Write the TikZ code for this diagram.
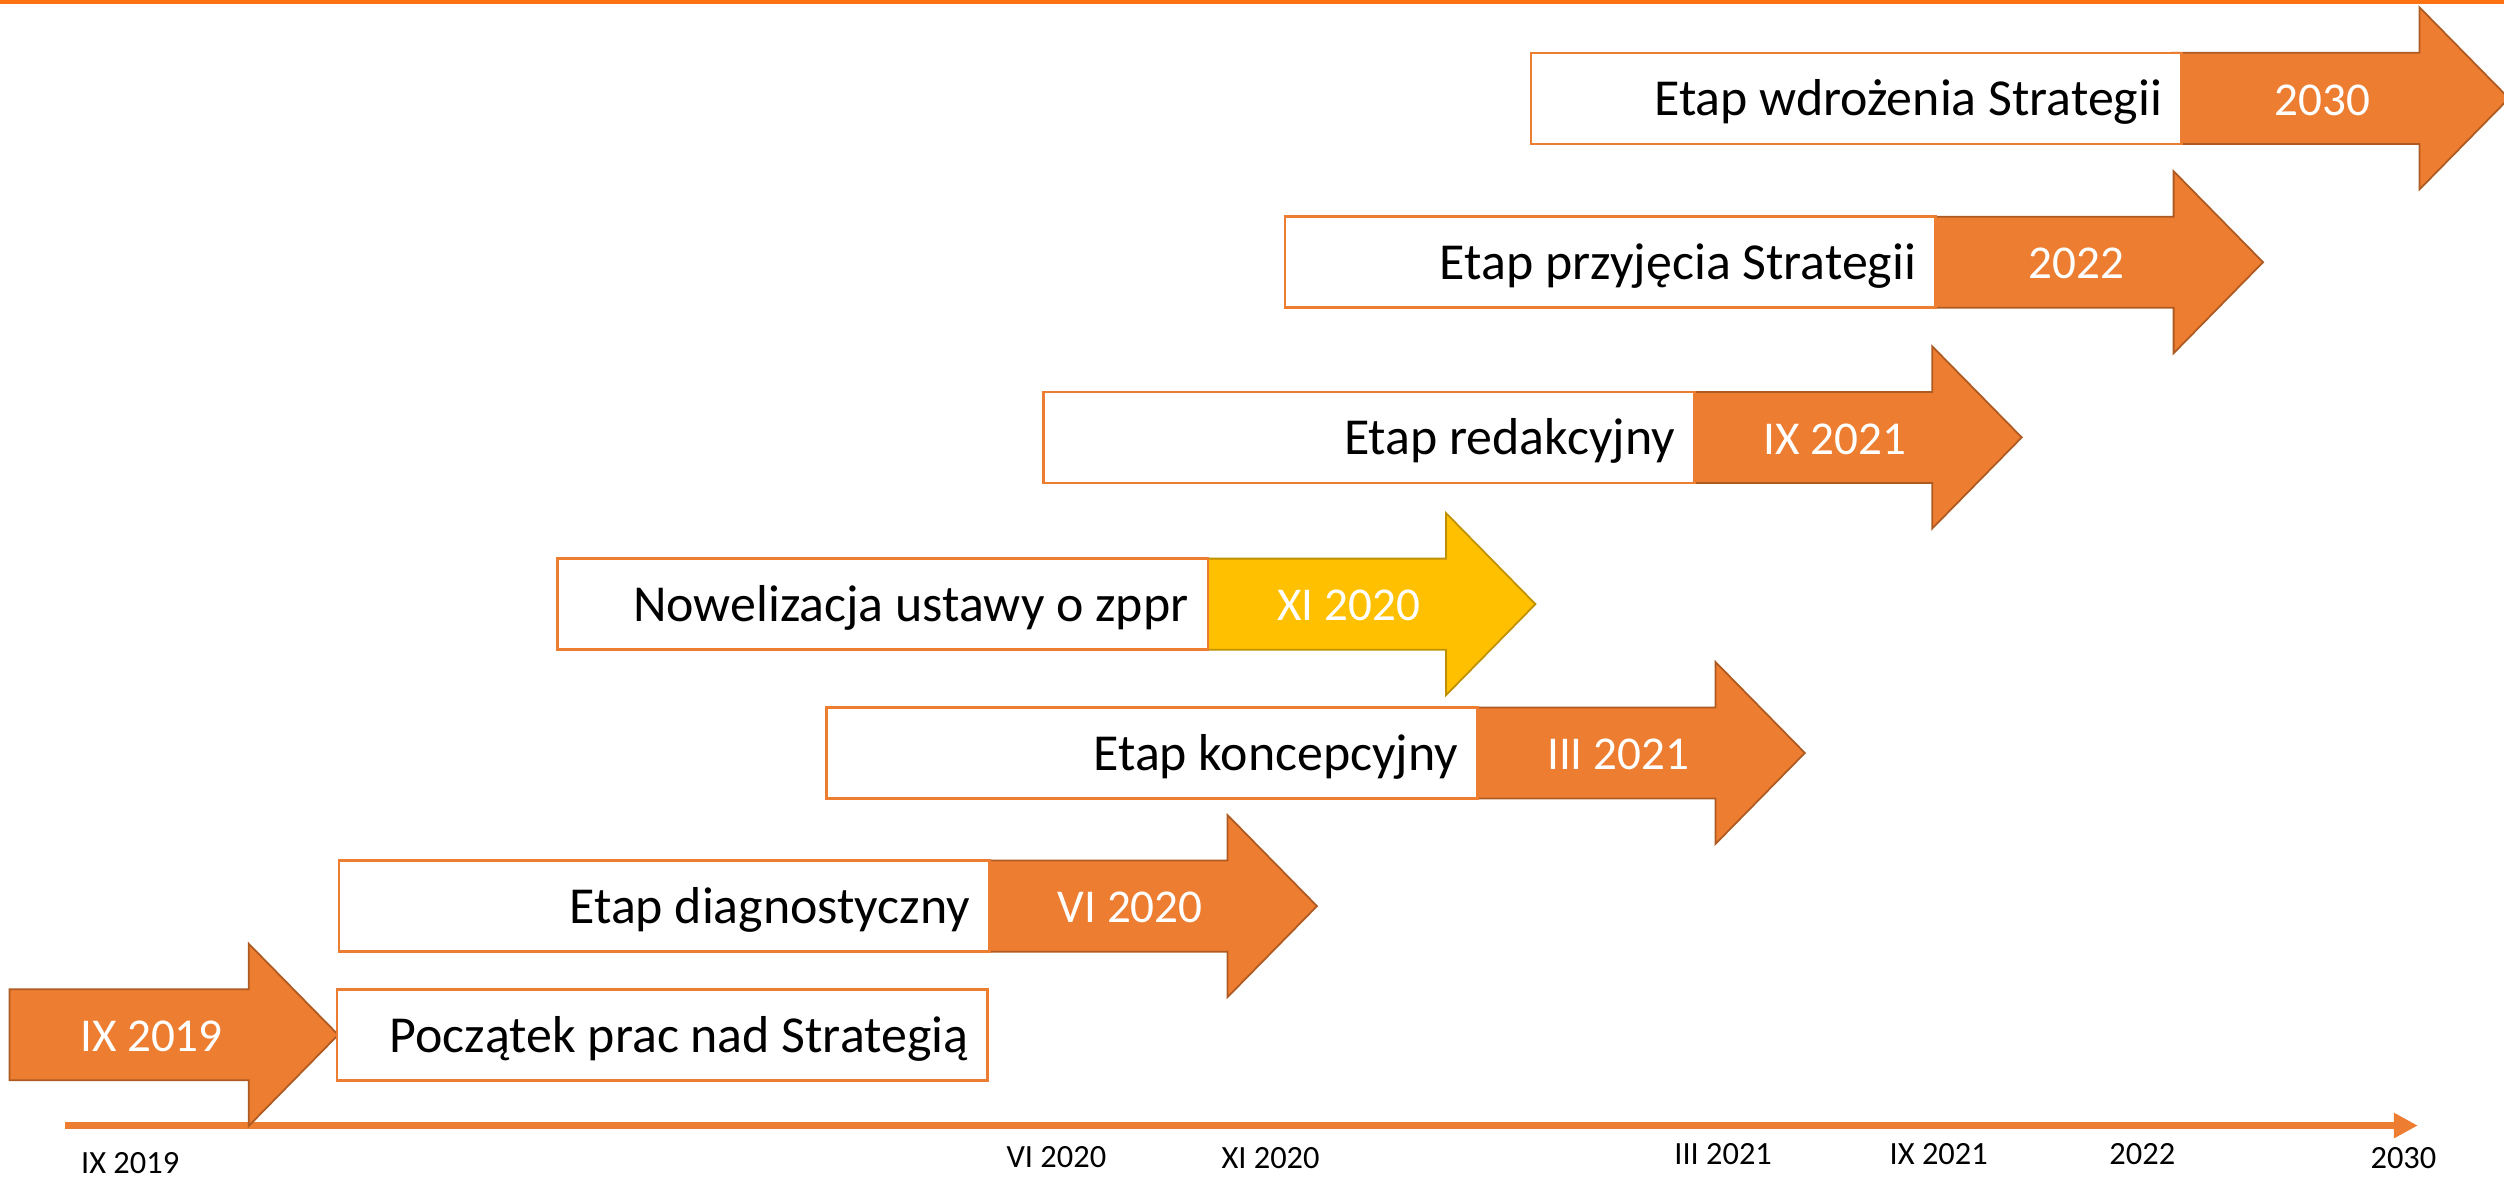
\documentclass[tikz,border=0pt]{standalone}
\usepackage{fontspec}
\setmainfont{Carlito}
\usetikzlibrary{arrows.meta}
\definecolor{org}{HTML}{ED7D31}
\definecolor{orgdark}{HTML}{AE5A21}
\definecolor{ylw}{HTML}{FFC000}
\definecolor{ylwdark}{HTML}{BF9000}
\definecolor{topline}{HTML}{FF7214}
\tikzset{
  stagebox/.style={draw=org, fill=white, line width=1.6pt, minimum width=407.5pt, minimum height=57pt, inner sep=0pt, outer sep=0pt},
  stagetext/.style={inner sep=0pt, font=\fontsize{32.5}{38}\selectfont, text=black},
  stagelabel/.style={inner sep=0pt, font=\fontsize{29.5}{35}\selectfont, text=white},
  arrowshape/.style={line width=1.1pt, line join=miter},
  axislabel/.style={inner sep=0pt, font=\fontsize{20.3}{24}\selectfont, text=black},
}
% arrow: name, start x, head-base x, centre y, label, fill, draw
\newcommand\stagearrow[7]{%
  \draw[arrowshape, fill=#6, draw=#7]
    ({#2},{#4-28.5}) -- ({#3},{#4-28.5}) -- ({#3},{#4-57}) -- ({#3+56},{#4})
    -- ({#3},{#4+57}) -- ({#3},{#4+28.5}) -- ({#2},{#4+28.5}) -- cycle;
  \node[stagelabel, anchor=base] (#1) at ({#3-61},{#4+10.5}) {#5};
}
% box: name, left x, centre y, text
\newcommand\stageboxnode[4]{%
  \node[stagebox, anchor=west] (#1) at ({#2},{#3}) {};
  \node[stagetext, anchor=base east] (#1-t) at ({#2+407.5-12},{#3+11}) {#4};
}
% full stage: name, left x, centre y, text, label, fill, draw
\newcommand\stagefull[7]{%
  \stagearrow{#1-lab}{#2+401.5}{#2+407.5+149}{#3}{#5}{#6}{#7}
  \stageboxnode{#1}{#2}{#3}{#4}
}
\begin{document}
\begin{tikzpicture}[x=1pt, y=-1pt]
\useasboundingbox (0,0) rectangle (1568,737);
\fill[topline] (0,0) rectangle (1568,2.6);

% axis
\coordinate (axstart) at (41,704.8);
\coordinate (axend) at (1514,704.8);
\draw[org, line width=4.8pt, -{Triangle[length=15pt,width=15pt]}] (axstart) -- (axend);

% axis labels
\node[axislabel, anchor=base] (ax1) at (81.5,735) {IX 2019};
\node[axislabel, anchor=base] (ax2) at (661.5,731) {VI 2020};
\node[axislabel, anchor=base] (ax3) at (795.6,732) {XI 2020};
\node[axislabel, anchor=base] (ax4) at (1079,729) {III 2021};
\node[axislabel, anchor=base] (ax5) at (1214,729) {IX 2021};
\node[axislabel, anchor=base] (ax6) at (1341.5,729) {2022};
\node[axislabel, anchor=base] (ax7) at (1505,731.5) {2030};

% stage 1
\stagearrow{start-lab}{6}{155.8}{648}{IX 2019}{org}{orgdark}
\stageboxnode{start}{211}{648}{Początek prac nad Strategią}

% other stages
\stagefull{diag}{212.2}{567.4}{Etap diagnostyczny}{VI 2020}{org}{orgdark}
\stagefull{konc}{517.7}{471.5}{Etap koncepcyjny}{III 2021}{org}{orgdark}
\stagefull{nowel}{349}{378.3}{Nowelizacja ustawy o zppr}{XI 2020}{ylw}{ylwdark}
\stagefull{redak}{653.5}{273.9}{Etap redakcyjny}{IX 2021}{org}{orgdark}
\stagefull{przyj}{804.6}{164.2}{Etap przyjęcia Strategii}{2022}{org}{orgdark}
\stagefull{wdroz}{958.6}{61.6}{Etap wdrożenia Strategii}{2030}{org}{orgdark}
\end{tikzpicture}
\end{document}
